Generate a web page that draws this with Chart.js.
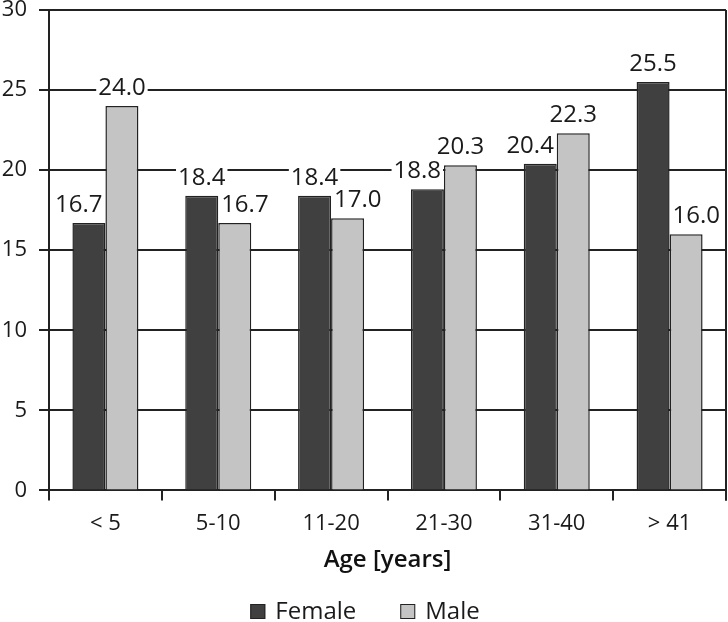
<!DOCTYPE html>
<html>
<head>
<meta charset="utf-8">
<script src="https://cdn.jsdelivr.net/npm/chart.js@4"></script>
<style>
  body { margin: 0; background: #fff; }
</style>
</head>
<body>
<canvas id="ageChart" width="728" height="622"></canvas>
<script>
const ageGroups = ['< 5', '5-10', '11-20', '21-30', '31-40', '> 41'];
const femaleVals = [16.7, 18.4, 18.4, 18.8, 20.4, 25.5];
const maleVals = [24.0, 16.7, 17.0, 20.3, 22.3, 16.0];
const yTicks = [0, 5, 10, 15, 20, 25, 30];

const FONT = "'Open Sans', sans-serif";
const INK = '#1a1a1a';

// value labels above each bar, white box behind so gridlines break around them;
// when the pair collides, the lower label is nudged outward
const barLabels = {
  id: 'barLabels',
  afterDatasetsDraw(chart) {
    const ctx = chart.ctx;
    ctx.save();
    ctx.font = '24px ' + FONT;
    ctx.textAlign = 'center';
    ctx.textBaseline = 'alphabetic';
    const f = chart.getDatasetMeta(0).data;
    const m = chart.getDatasetMeta(1).data;
    const ds = chart.data.datasets;
    f.forEach((fb, i) => {
      const mb = m[i];
      const items = [
        { bar: fb, txt: ds[0].data[i].toFixed(1), v: ds[0].data[i], dir: -1 },
        { bar: mb, txt: ds[1].data[i].toFixed(1), v: ds[1].data[i], dir: 1 }
      ];
      items.forEach(it => { it.w = ctx.measureText(it.txt).width; it.x = it.bar.x; });
      const overlap = (items[0].w + items[1].w) / 2 - (mb.x - fb.x);
      if (overlap > 0) {
        const lower = items[0].v < items[1].v ? items[0] : items[1];
        lower.x += lower.dir * overlap * 0.7;
      }
      items.forEach(it => {
        const base = it.bar.y - 11;
        ctx.fillStyle = '#fff';
        ctx.fillRect(it.x - it.w / 2 - 2, base - 20, it.w + 4, 23);
        ctx.fillStyle = INK;
        ctx.fillText(it.txt, it.x, base);
      });
    });
    // right frame line
    const a = chart.chartArea;
    ctx.strokeStyle = '#222';
    ctx.lineWidth = 2;
    ctx.beginPath();
    ctx.moveTo(a.right, a.top);
    ctx.lineTo(a.right, a.bottom + 10);
    ctx.stroke();
    ctx.restore();
  },
  // legend row under the axis title
  afterDraw(chart) {
    const ctx = chart.ctx;
    ctx.save();
    ctx.font = '24px ' + FONT;
    ctx.textBaseline = 'alphabetic';
    ctx.textAlign = 'left';
    const box = 15, gapText = 10, gapItem = 44, base = 619;
    const items = chart.data.datasets.map(d => ({ d, w: ctx.measureText(d.label).width }));
    const total = items.reduce((s, it) => s + box + gapText + it.w, 0) + gapItem * (items.length - 1);
    let x = chart.width / 2 - total / 2 + 1;
    items.forEach(it => {
      ctx.fillStyle = it.d.backgroundColor;
      ctx.fillRect(x, base - box, box, box);
      ctx.strokeStyle = '#222';
      ctx.lineWidth = 1;
      ctx.strokeRect(x + 0.5, base - box + 0.5, box - 1, box - 1);
      ctx.fillStyle = INK;
      ctx.fillText(it.d.label, x + box + gapText, base);
      x += box + gapText + it.w + gapItem;
    });
    ctx.restore();
  }
};

new Chart(document.getElementById('ageChart'), {
  type: 'bar',
  data: {
    labels: ageGroups,
    datasets: [{
      label: 'Female',
      data: femaleVals,
      backgroundColor: '#404040',
      borderColor: '#222',
      borderWidth: 1.5,
      categoryPercentage: 0.585,
      barPercentage: 1
    }, {
      label: 'Male',
      data: maleVals,
      backgroundColor: '#c4c4c4',
      borderColor: '#222',
      borderWidth: 1.5,
      categoryPercentage: 0.585,
      barPercentage: 1
    }]
  },
  options: {
    responsive: false,
    animation: false,
    devicePixelRatio: 1,
    layout: { padding: { top: 10, right: 2, left: 0, bottom: 50 } },
    scales: {
      x: {
        grid: {
          offset: true,
          drawOnChartArea: false,
          color: '#222',
          lineWidth: 2,
          tickLength: 10
        },
        border: { color: '#222', width: 2 },
        ticks: { color: INK, font: { family: FONT, size: 22, lineHeight: 0.8 }, padding: 15, autoSkip: false, maxRotation: 0 },
        title: {
          display: true,
          text: 'Age [years]',
          color: '#111',
          font: { family: FONT, size: 24, weight: '600', lineHeight: 1 },
          padding: { top: 0, bottom: 0 }
        }
      },
      y: {
        min: 0,
        max: 30,
        afterBuildTicks: axis => { axis.ticks = yTicks.map(v => ({ value: v })); },
        afterFit: axis => { axis.width = 49; axis.paddingTop = 0; axis.paddingBottom = 0; },
        grid: { color: '#222', lineWidth: 2, tickLength: 10 },
        border: { color: '#222', width: 2 },
        ticks: { color: INK, font: { family: FONT, size: 22 }, padding: 12 }
      }
    },
    plugins: {
      legend: { display: false },
      tooltip: { enabled: false }
    }
  },
  plugins: [barLabels]
});
</script>
</body>
</html>
